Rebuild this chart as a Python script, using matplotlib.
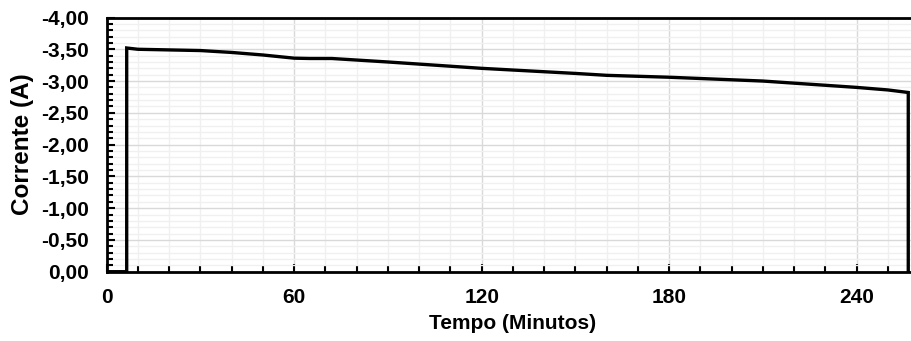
import matplotlib
matplotlib.use("Agg")
import matplotlib.pyplot as plt
from matplotlib.ticker import MultipleLocator, FuncFormatter

plt.rcParams['font.family'] = ['Liberation Sans', 'DejaVu Sans']

# Discharge current over time (minutes, amperes)
tempo = [0, 6.4, 6.4, 10, 20, 30, 40, 50, 60, 65, 72, 90, 120, 150, 160,
         180, 200, 210, 225, 240, 250, 256.5, 256.5]
corrente = [0, 0, -3.52, -3.50, -3.49, -3.48, -3.45, -3.41, -3.36, -3.355,
            -3.355, -3.30, -3.20, -3.12, -3.09, -3.06, -3.02, -3.00, -2.95,
            -2.90, -2.86, -2.82, 0]

x_ticks = [0, 60, 120, 180, 240]

fig = plt.figure(figsize=(9.11, 3.41), dpi=100)
W, H = 911, 341
left, right, top, bottom = 106.7, 919.2, 17.5, 271.7
ax = fig.add_axes([left / W, 1 - bottom / H, (right - left) / W, (bottom - top) / H])

ax.plot(tempo, corrente, color='black', linewidth=2.4, solid_joinstyle='miter', zorder=3)

ax.set_xlim(0, 260)
ax.set_ylim(0, -4)
ax.set_xticks(x_ticks)
ax.xaxis.set_minor_locator(MultipleLocator(10))
ax.yaxis.set_major_locator(MultipleLocator(0.5))
ax.yaxis.set_minor_locator(MultipleLocator(0.1))
ax.yaxis.set_major_formatter(FuncFormatter(lambda v, p: f"{v:.2f}".replace('.', ',')))

ax.grid(which='major', color='#d9d9d9', linewidth=1.0, zorder=0)
ax.grid(which='minor', color='#f0f0f0', linewidth=1.0, zorder=0)
ax.set_axisbelow(True)

for s in ['left', 'bottom', 'top']:
    ax.spines[s].set_linewidth(2.0)
    ax.spines[s].set_color('black')
ax.spines['right'].set_visible(False)

ax.tick_params(which='both', direction='in', color='black', width=1.5)
ax.tick_params(which='major', length=6)
ax.tick_params(which='minor', length=4)
ax.tick_params(axis='x', which='major', labelsize=15, pad=12)
ax.tick_params(axis='y', which='major', labelsize=15, pad=13)
for lab in ax.get_xticklabels() + ax.get_yticklabels():
    lab.set_fontweight('bold')

ax.set_xlabel('Tempo (Minutos)', fontsize=15, fontweight='bold', labelpad=5)
ax.set_ylabel('Corrente (A)', fontsize=17.5, fontweight='bold', labelpad=5)

fig.savefig('out.png', dpi=100)
